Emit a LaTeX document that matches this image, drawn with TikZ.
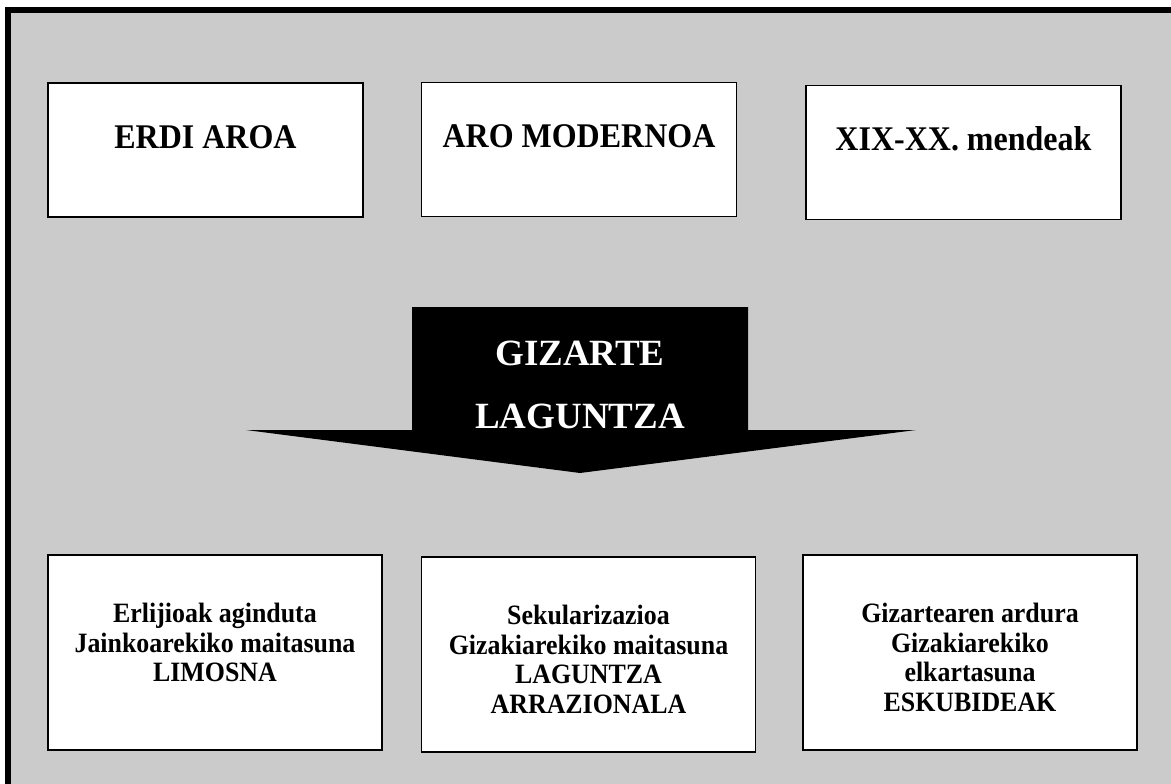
\documentclass[tikz,border=0pt]{standalone}
\usepackage{fontspec}
\setmainfont{Liberation Serif}
\newfontfamily\tallserif{Liberation Serif}[FakeStretch=0.925]
\usepackage{xcolor}
\usetikzlibrary{calc}
\definecolor{panelgray}{RGB}{203,203,203}

\tikzset{
    periodbox/.style={draw, line width=1.5pt, fill=white, minimum width=315pt, minimum height=134pt,
        inner sep=0pt, text height=23pt, text depth=27pt, font=\tallserif\fontsize{34.6}{40}\selectfont\bfseries},
    featurebox/.style={draw, line width=1.5pt, fill=white, minimum width=334pt, minimum height=195pt, inner sep=0pt},
    featuretext/.style={anchor=north, align=center, inner sep=0pt, font=\tallserif\fontsize{28}{29.5}\selectfont\bfseries},
    arrowtext/.style={anchor=base, inner sep=0pt, text=white, font=\fontsize{37}{44}\selectfont\bfseries}
}

\begin{document}
\begin{tikzpicture}[x=1pt, y=-1pt]
    \useasboundingbox (0,0) rectangle (1171,784);
    \clip (0,0) rectangle (1171,784);
    \draw[line width=6pt, fill=panelgray] (8,10.5) rectangle (1200,820);

    \node[periodbox] (erdi)    at (205.5,150)   {ERDI AROA};
    \node[periodbox] (modern)  at (579,149.5)   {ARO MODERNOA};
    \node[periodbox] (mendeak) at (963.5,152.5) {XIX-XX. mendeak};

    \coordinate (P1) at (412,307); \coordinate (P2) at (748,307); \coordinate (P3) at (748,430);
    \coordinate (P4) at (916,430); \coordinate (P5) at (580,473); \coordinate (P6) at (246,430);
    \coordinate (P7) at (412,430);
    \fill[black] (P1) -- (P2) -- (P3) -- (P4) -- (P5) -- (P6) -- (P7) -- cycle;
    \node[arrowtext] (gizarte)  at (580,365) {GIZARTE};
    \node[arrowtext] (laguntza) at (580,428) {LAGUNTZA};

    \node[featurebox] (limosna)   at (215,652.5)   {};
    \node[featurebox] (arrazio)   at (588.5,654.5) {};
    \node[featurebox] (eskubide)  at (970,652.5)   {};
    \node[featuretext] (limosnatxt)  at ([yshift=-49pt]limosna.north)
        {Erlijioak aginduta\\Jainkoarekiko maitasuna\\LIMOSNA};
    \node[featuretext] (arraziotxt)  at ([yshift=-49pt]arrazio.north)
        {Sekularizazioa\\Gizakiarekiko maitasuna\\LAGUNTZA\\ARRAZIONALA};
    \node[featuretext] (eskubidetxt) at ([yshift=-49pt]eskubide.north)
        {Gizartearen ardura\\Gizakiarekiko\\elkartasuna\\ESKUBIDEAK};
\end{tikzpicture}
\end{document}
